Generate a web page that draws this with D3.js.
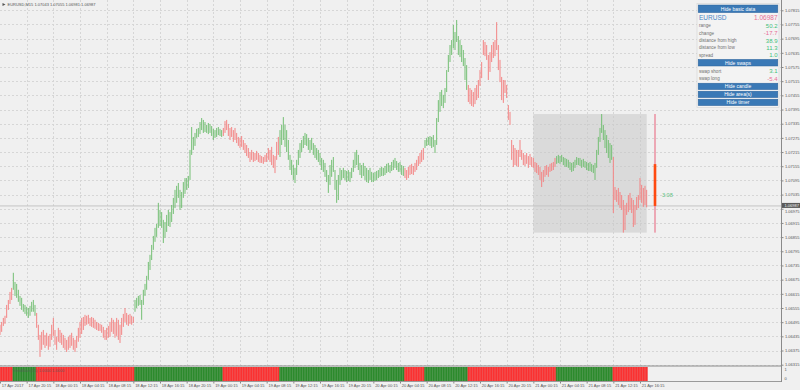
<!DOCTYPE html>
<html><head><meta charset="utf-8">
<script src="https://cdn.jsdelivr.net/npm/d3@7"></script>
<style>
body{margin:0;background:#f0f0f0}
svg{display:block;font-family:"Liberation Sans",Arial,sans-serif}
</style>
</head><body>
<svg id="c" width="800" height="390"></svg>
<script>
// ---------- DATA ----------
const highs=[
1.06484,1.06496,1.06513,1.06522,1.06568,1.06589,1.06623,1.06640,1.06704,1.06665,
1.06657,1.06632,1.06606,1.06598,1.06572,1.06568,1.06560,1.06555,1.06564,1.06581,
1.06589,1.06568,1.06534,1.06484,1.06441,1.06454,1.06462,1.06441,1.06450,1.06437,
1.06445,1.06484,1.06513,1.06462,1.06433,1.06471,1.06462,1.06450,1.06441,1.06429,
1.06420,1.06433,1.06441,1.06450,1.06429,1.06420,1.06437,1.06471,1.06496,1.06513,
1.06517,1.06526,1.06522,1.06526,1.06513,1.06517,1.06513,1.06505,1.06496,1.06492,
1.06488,1.06484,1.06475,1.06462,1.06471,1.06479,1.06496,1.06513,1.06505,1.06496,
1.06513,1.06505,1.06484,1.06513,1.06530,1.06555,1.06534,1.06526,1.06530,1.06522,
1.06517,1.06589,1.06598,1.06606,1.06610,1.06589,1.06632,1.06657,1.06691,1.06750,
1.06780,1.06822,1.06860,1.06894,1.06911,1.07000,1.06970,1.06961,1.06928,1.06919,
1.06949,1.06970,1.06961,1.06991,1.07021,1.07055,1.07072,1.07084,1.07055,1.07046,
1.07088,1.07105,1.07105,1.07114,1.07224,1.07321,1.07279,1.07296,1.07313,1.07317,
1.07342,1.07359,1.07351,1.07342,1.07330,1.07338,1.07334,1.07325,1.07313,1.07308,
1.07317,1.07321,1.07313,1.07308,1.07317,1.07346,1.07351,1.07334,1.07317,1.07321,
1.07308,1.07317,1.07296,1.07279,1.07275,1.07283,1.07266,1.07253,1.07245,1.07232,
1.07215,1.07224,1.07215,1.07211,1.07220,1.07211,1.07203,1.07198,1.07194,1.07203,
1.07211,1.07232,1.07224,1.07237,1.07203,1.07198,1.07258,1.07279,1.07308,1.07330,
1.07363,1.07330,1.07308,1.07266,1.07203,1.07182,1.07160,1.07148,1.07182,1.07224,
1.07253,1.07266,1.07283,1.07296,1.07291,1.07275,1.07266,1.07275,1.07253,1.07245,
1.07232,1.07224,1.07211,1.07190,1.07182,1.07169,1.07139,1.07118,1.07160,1.07182,
1.07194,1.07139,1.07097,1.07118,1.07148,1.07139,1.07148,1.07139,1.07135,1.07139,
1.07131,1.07148,1.07182,1.07215,1.07224,1.07203,1.07169,1.07160,1.07169,1.07156,
1.07148,1.07139,1.07148,1.07131,1.07126,1.07131,1.07135,1.07139,1.07148,1.07152,
1.07148,1.07156,1.07165,1.07169,1.07160,1.07173,1.07182,1.07190,1.07177,1.07169,
1.07173,1.07160,1.07156,1.07148,1.07139,1.07152,1.07160,1.07165,1.07156,1.07169,
1.07182,1.07198,1.07211,1.07224,1.07232,1.07266,1.07275,1.07279,1.07283,1.07279,
1.07287,1.07266,1.07359,1.07435,1.07469,1.07478,1.07457,1.07486,1.07562,1.07626,
1.07668,1.07689,1.07753,1.07723,1.07774,1.07706,1.07689,1.07668,1.07647,1.07613,
1.07583,1.07499,1.07486,1.07478,1.07469,1.07486,1.07499,1.07520,1.07562,1.07596,
1.07689,1.07681,1.07668,1.07626,1.07638,1.07668,1.07681,1.07689,1.07765,1.07668,
1.07605,1.07533,1.07520,1.07520,1.07499,1.07414,1.07385,1.07266,1.07245,1.07232,
1.07224,1.07224,1.07266,1.07224,1.07211,1.07203,1.07211,1.07198,1.07207,1.07194,
1.07190,1.07173,1.07169,1.07160,1.07152,1.07131,1.07139,1.07156,1.07160,1.07152,
1.07165,1.07169,1.07173,1.07190,1.07198,1.07203,1.07198,1.07203,1.07194,1.07190,
1.07186,1.07182,1.07173,1.07169,1.07173,1.07182,1.07194,1.07190,1.07190,1.07182,
1.07186,1.07177,1.07173,1.07169,1.07173,1.07165,1.07160,1.07169,1.07224,1.07279,
1.07317,1.07376,1.07330,1.07308,1.07287,1.07266,1.07253,1.07245,1.07194,1.07067,
1.07055,1.07063,1.07046,1.07033,1.07012,1.06991,1.07000,1.07033,1.07042,1.07021,
1.07012,1.06991,1.07025,1.07033,1.07105,1.07076,1.07063,1.07072,1.07055];
const lows=[
1.06441,1.06454,1.06479,1.06488,1.06513,1.06547,1.06572,1.06589,1.06632,1.06606,
1.06598,1.06581,1.06564,1.06547,1.06539,1.06530,1.06522,1.06513,1.06522,1.06539,
1.06539,1.06522,1.06471,1.06420,1.06348,1.06378,1.06399,1.06386,1.06395,1.06378,
1.06391,1.06420,1.06437,1.06399,1.06378,1.06412,1.06407,1.06399,1.06386,1.06378,
1.06369,1.06378,1.06386,1.06395,1.06378,1.06369,1.06386,1.06412,1.06429,1.06445,
1.06462,1.06479,1.06484,1.06488,1.06479,1.06475,1.06471,1.06467,1.06462,1.06458,
1.06458,1.06450,1.06429,1.06420,1.06420,1.06429,1.06433,1.06454,1.06445,1.06429,
1.06437,1.06420,1.06407,1.06441,1.06475,1.06496,1.06484,1.06479,1.06488,1.06484,
1.06492,1.06539,1.06555,1.06564,1.06568,1.06505,1.06568,1.06606,1.06632,1.06674,
1.06716,1.06758,1.06801,1.06835,1.06856,1.06894,1.06902,1.06894,1.06830,1.06852,
1.06877,1.06902,1.06898,1.06919,1.06953,1.06978,1.07000,1.07021,1.06970,1.06978,
1.07021,1.07038,1.07055,1.07063,1.07097,1.07203,1.07224,1.07241,1.07275,1.07279,
1.07291,1.07308,1.07296,1.07300,1.07296,1.07291,1.07296,1.07283,1.07266,1.07275,
1.07279,1.07287,1.07283,1.07279,1.07283,1.07296,1.07308,1.07283,1.07266,1.07279,
1.07258,1.07266,1.07253,1.07241,1.07232,1.07237,1.07224,1.07211,1.07198,1.07190,
1.07173,1.07182,1.07173,1.07177,1.07182,1.07173,1.07169,1.07169,1.07165,1.07173,
1.07173,1.07182,1.07173,1.07160,1.07148,1.07126,1.07182,1.07203,1.07194,1.07245,
1.07266,1.07237,1.07215,1.07182,1.07139,1.07118,1.07097,1.07084,1.07118,1.07160,
1.07190,1.07215,1.07232,1.07245,1.07241,1.07224,1.07211,1.07224,1.07203,1.07190,
1.07182,1.07173,1.07160,1.07139,1.07131,1.07110,1.07088,1.07042,1.07076,1.07110,
1.07131,1.07055,1.07000,1.07012,1.07076,1.07097,1.07105,1.07097,1.07088,1.07093,
1.07088,1.07105,1.07131,1.07148,1.07160,1.07139,1.07118,1.07105,1.07114,1.07097,
1.07088,1.07084,1.07097,1.07088,1.07088,1.07093,1.07097,1.07105,1.07110,1.07114,
1.07114,1.07118,1.07126,1.07131,1.07126,1.07135,1.07139,1.07148,1.07139,1.07131,
1.07131,1.07118,1.07114,1.07105,1.07097,1.07105,1.07118,1.07122,1.07118,1.07131,
1.07139,1.07156,1.07165,1.07173,1.07182,1.07232,1.07241,1.07245,1.07241,1.07232,
1.07237,1.07211,1.07245,1.07342,1.07385,1.07410,1.07401,1.07423,1.07469,1.07554,
1.07596,1.07626,1.07655,1.07647,1.07681,1.07626,1.07617,1.07596,1.07579,1.07520,
1.07478,1.07427,1.07418,1.07410,1.07406,1.07418,1.07435,1.07444,1.07495,1.07528,
1.07626,1.07621,1.07605,1.07520,1.07554,1.07596,1.07613,1.07621,1.07647,1.07562,
1.07511,1.07435,1.07423,1.07465,1.07444,1.07351,1.07330,1.07182,1.07152,1.07160,
1.07156,1.07152,1.07194,1.07182,1.07160,1.07156,1.07165,1.07148,1.07160,1.07152,
1.07148,1.07131,1.07126,1.07118,1.07097,1.07067,1.07088,1.07110,1.07118,1.07110,
1.07131,1.07135,1.07139,1.07152,1.07165,1.07169,1.07165,1.07173,1.07160,1.07152,
1.07152,1.07148,1.07139,1.07131,1.07135,1.07148,1.07160,1.07160,1.07156,1.07148,
1.07152,1.07148,1.07139,1.07135,1.07135,1.07131,1.07126,1.07097,1.07148,1.07203,
1.07258,1.07296,1.07266,1.07232,1.07211,1.07190,1.07169,1.07182,1.06957,1.07012,
1.07004,1.06991,1.06978,1.06970,1.06874,1.06885,1.06949,1.06961,1.06970,1.06957,
1.06898,1.06907,1.06970,1.06978,1.07012,1.07000,1.06983,1.06991,1.06981];
// trend state runs: [firstBar, lastBar, state]
const trendRuns=[[0,7,"down"],[8,21,"up"],[22,80,"down"],[81,133,"up"],[134,167,"down"],
[168,242,"up"],[243,254,"down"],[255,280,"up"],[281,333,"down"],[334,367,"up"],[368,388,"down"]];
const priceTickLabels=["1.06315","1.06375","1.06435","1.06495","1.06555","1.06615","1.06675",
"1.06735","1.06795","1.06855","1.06915","1.06975","1.07035","1.07095","1.07155","1.07215",
"1.07275","1.07335","1.07395","1.07455","1.07515","1.07575","1.07635","1.07695","1.07755","1.07815"];
const timeLabels=["17 Apr 2017","17 Apr 20:15","18 Apr 00:15","18 Apr 04:15","18 Apr 08:15",
"18 Apr 12:15","18 Apr 16:15","18 Apr 20:15","19 Apr 00:15","19 Apr 04:15","19 Apr 08:15",
"19 Apr 12:15","19 Apr 16:15","19 Apr 20:15","20 Apr 00:15","20 Apr 04:15","20 Apr 08:15",
"20 Apr 12:15","20 Apr 16:15","20 Apr 20:15","21 Apr 00:15","21 Apr 04:15","21 Apr 08:15",
"21 Apr 12:15","21 Apr 16:15"];
const barsPerLabel=16;
const lastBar={open:1.07043,high:1.07055,low:1.06981,close:1.06987};
const symbol="EURUSD", timeframe="M15";
// higher-timeframe candle + area
const htfCandle={open:1.07164,high:1.07376,low:1.06874,close:1.06987};
const areaFromBar=320, areaToBar=388, candleBar=393;
const panelRows=[["range","50.2"],["change","-17.7"],["distance from high","38.9"],["distance from low","11.3"],["spread","1.0"]];
const swapRows=[["swap short","3.1"],["swap long","-5.4"]];
const timerText="3:08";
const stripLabel="TrendBars(15) 1.0000 1.0000";

// ---------- DRAW ----------
const svg=d3.select("#c");
const PR=781, MAIN_B=366;
const x=d3.scaleLinear().domain([0,468.6]).range([0,PR]);
const y=d3.scaleLinear().domain([1.06315,1.07815]).range([364.7,10.3]);
const sy=d3.scaleLinear().domain([0,1]).range([381,367]);
const priceTicks=priceTickLabels.map(Number);
const labelBars=timeLabels.map((d,i)=>i*barsPerLabel);
const trend=new Array(highs.length);
trendRuns.forEach(([a,b,s])=>{for(let i=a;i<=b;i++)trend[i]=s;});

svg.append("rect").attr("width",800).attr("height",390).attr("fill","#f0f0f0");

// grid
const grid=svg.append("g").attr("stroke","#d6d6d6").attr("stroke-width",1).attr("stroke-dasharray","2,2");
grid.selectAll(".h").data(priceTicks).join("line")
  .attr("x1",0).attr("x2",PR).attr("y1",d=>Math.round(y(d))+0.5).attr("y2",d=>Math.round(y(d))+0.5);
grid.selectAll(".v").data(labelBars.slice(1)).join("line")
  .attr("y1",0).attr("y2",MAIN_B).attr("x1",d=>Math.round(x(d))+0.5).attr("x2",d=>Math.round(x(d))+0.5);

// area box
svg.append("rect").attr("x",x(areaFromBar)).attr("width",x(areaToBar)-x(areaFromBar))
  .attr("y",y(htfCandle.high)).attr("height",y(htfCandle.low)-y(htfCandle.high))
  .attr("fill","#c8c8c8").attr("opacity",0.55);

// current price line
svg.append("line").attr("x1",0).attr("x2",PR).attr("y1",y(lastBar.close)).attr("y2",y(lastBar.close))
  .attr("stroke","#c4c4c4").attr("stroke-width",1);

// bars
const col={up:"#74bf74",down:"#f38484"};
svg.append("g").selectAll("line").data(highs).join("line")
  .attr("x1",(d,i)=>x(i)).attr("x2",(d,i)=>x(i))
  .attr("y1",d=>y(d)).attr("y2",(d,i)=>y(lows[i]))
  .attr("stroke",(d,i)=>col[trend[i]]).attr("stroke-width",1);

// higher-timeframe candle
const cx=x(candleBar);
svg.append("line").attr("x1",cx).attr("x2",cx).attr("y1",y(htfCandle.high)).attr("y2",y(htfCandle.low))
  .attr("stroke","#e8607a").attr("stroke-width",1);
svg.append("rect").attr("x",cx-1.3).attr("width",2.6).attr("y",y(htfCandle.open))
  .attr("height",y(htfCandle.close)-y(htfCandle.open)).attr("fill","#ff4a10");
svg.append("text").attr("x",cx+7).attr("y",y(htfCandle.close)-9).attr("font-size",5.5)
  .attr("fill","#5cc080").text(timerText);

// sub-window strip
svg.append("g").selectAll("rect").data(highs).join("rect")
  .attr("x",(d,i)=>x(i)-x(0.5)).attr("width",x(1))
  .attr("y",sy(1)).attr("height",sy(0)-sy(1))
  .attr("fill",(d,i)=>trend[i]==="up"?"#2f8f2f":"#ff3434");
svg.append("g").selectAll("line").data(highs).join("line")
  .attr("x1",(d,i)=>x(i)+x(0.5)).attr("x2",(d,i)=>x(i)+x(0.5))
  .attr("y1",sy(1)).attr("y2",sy(0))
  .attr("stroke",(d,i)=>trend[i]==="up"?"#1f6f1f":"#d82020").attr("stroke-width",0.5).attr("opacity",0.6);
svg.append("text").attr("x",12).attr("y",372).attr("font-size",4).attr("fill","#5a5a5a").attr("opacity",0.8).text(stripLabel);
svg.append("line").attr("x1",0).attr("x2",PR).attr("y1",MAIN_B).attr("y2",MAIN_B).attr("stroke","#8a8a8a").attr("stroke-width",1.2);
svg.append("line").attr("x1",0).attr("x2",PR).attr("y1",381.5).attr("y2",381.5).attr("stroke","#9a9a9a").attr("stroke-width",1);
svg.append("text").attr("x",784.5).attr("y",371).attr("font-size",4).attr("fill","#555").text("1");
svg.append("text").attr("x",784.5).attr("y",380).attr("font-size",4).attr("fill","#555").text("0");

// right price axis
const cy=y(lastBar.close);
const yAxis=d3.axisRight(y).tickValues(priceTicks).tickFormat((d,i)=>priceTickLabels[i]).tickSize(2).tickPadding(1.5);
const ya=svg.append("g").attr("transform",`translate(${PR+0.5},0)`).call(yAxis);
ya.select(".domain").remove();
ya.selectAll("line").attr("stroke","#888");
ya.selectAll("text").attr("font-size",4).attr("fill","#555").attr("font-family","Liberation Sans, Arial")
  .attr("dy",d=>Math.abs(y(d)-cy)<3?"1.05em":"0.32em");
svg.append("line").attr("x1",PR+0.5).attr("x2",PR+0.5).attr("y1",0).attr("y2",382).attr("stroke","#8a8a8a");

// current price tag
svg.append("rect").attr("x",PR+1).attr("y",cy-3).attr("width",19).attr("height",5).attr("fill","#5a5a5a");
svg.append("text").attr("x",PR+3.5).attr("y",cy+1.1).attr("font-size",4).attr("fill","#f4f4f4").text(lastBar.close.toFixed(5));

// time axis
const xAxis=d3.axisBottom(x).tickValues(labelBars).tickFormat((d,i)=>timeLabels[i]).tickSize(2).tickPadding(0.5);
const xa=svg.append("g").attr("transform","translate(0,381.5)").call(xAxis);
xa.select(".domain").remove();
xa.selectAll("line").attr("stroke","#888");
xa.selectAll("text").attr("font-size",4).attr("fill","#555").attr("text-anchor","start").attr("dx",1.3)
  .attr("font-family","Liberation Sans, Arial");

// title
svg.append("path").attr("d","M2.5,3 L5.5,4.5 L2.5,6 Z").attr("fill","#555");
svg.append("text").attr("x",7.5).attr("y",6.3).attr("font-size",4).attr("fill","#555")
  .text(`${symbol},${timeframe}  ${lastBar.open.toFixed(5)} ${lastBar.high.toFixed(5)} ${lastBar.low.toFixed(5)} ${lastBar.close.toFixed(5)}`);

// info panel
const P={x:697,w:82};
const g=svg.append("g");
g.append("rect").attr("x",P.x).attr("y",3.5).attr("width",P.w).attr("height",104).attr("fill","#f3f3f3").attr("stroke","#d4d4d4").attr("stroke-width",0.6);
function button(label,y0,h){
  g.append("rect").attr("x",P.x+1.2).attr("y",y0).attr("width",P.w-2.4).attr("height",h)
    .attr("fill","#3a79b6").attr("stroke","#2d6399").attr("stroke-width",0.5);
  g.append("text").attr("x",P.x+P.w/2).attr("y",y0+h/2+1.8).attr("text-anchor","middle")
    .attr("font-size",5).attr("fill","#fff").text(label);
}
button("Hide basic data",5,7.6);
g.append("text").attr("x",699).attr("y",20).attr("font-size",6.5).attr("fill","#4a86c4").text(symbol);
g.append("text").attr("x",777.5).attr("y",20).attr("text-anchor","end").attr("font-size",6.5).attr("fill","#e86d95").text(lastBar.close.toFixed(5));
const vcol=v=>v.startsWith("-")?"#e86d95":"#3fc07a";
panelRows.forEach(([k,v],i)=>{
  const yy=27.3+i*7.3;
  g.append("text").attr("x",699).attr("y",yy).attr("font-size",4.6).attr("fill","#707070").text(k);
  g.append("text").attr("x",777.5).attr("y",yy+0.6).attr("text-anchor","end").attr("font-size",6).attr("fill",vcol(v)).text(v);
});
button("Hide swaps",59.4,6.6);
swapRows.forEach(([k,v],i)=>{
  const yy=72.8+i*7.5;
  g.append("text").attr("x",699).attr("y",yy).attr("font-size",4.6).attr("fill","#707070").text(k);
  g.append("text").attr("x",777.5).attr("y",yy+0.6).attr("text-anchor","end").attr("font-size",6).attr("fill",vcol(v)).text(v);
});
button("Hide candle",83.2,6.4);
button("Hide area(s)",91.2,6.4);
button("Hide timer",99.2,6.4);
</script>
</body></html>
